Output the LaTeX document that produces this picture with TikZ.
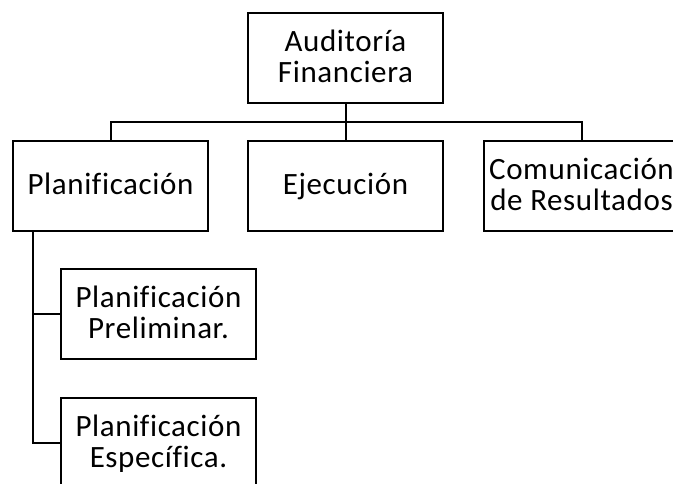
\documentclass[tikz,border=0pt]{standalone}
\usepackage{fontspec}
\setmainfont{Carlito}[LetterSpace=2, Ligatures=NoCommon]
\usepackage{tikz}
\usetikzlibrary{positioning, calc}
\newcommand{\ps}{\rule[-6pt]{0pt}{30pt}}

\begin{document}
\begin{tikzpicture}[
    x=1pt, y=1pt,
    etapa/.style={rectangle, draw, line width=2pt, outer sep=0pt, inner sep=0pt, minimum width=195pt, minimum height=90pt, align=center, font=\fontsize{31}{31}\selectfont},
    rama/.style={-, line width=2pt},
    node distance=38pt
]
\useasboundingbox (0,0) rectangle (673,-483);
\clip (0,0) rectangle (673,-483);

% 定义节点
\node[etapa] (AuditoriaFinanciera) at (345.5,-57.5) {\ps Auditoría\\\ps Financiera};
\node[etapa, below=of AuditoriaFinanciera] (Ejecucion) {\ps Ejecución};
\node[etapa, left=40pt of Ejecucion] (Planificacion) {\ps Planificación};
\node[etapa, right=41pt of Ejecucion] (Comunicacion) {\ps Comunicación\\\ps de Resultados};
\node[etapa, below=of Planificacion, xshift=48pt] (PlanPreliminar) {\ps Planificación\\\ps Preliminar.};
\node[etapa, below=39pt of PlanPreliminar] (PlanEspecifica) {\ps Planificación\\\ps Específica.};

% 绘制连线
\coordinate (bus) at ($(AuditoriaFinanciera.south)!0.5!(Ejecucion.north)$);
\coordinate (tronco) at ([xshift=20pt]Planificacion.south west);
\draw[rama] (AuditoriaFinanciera) -- (Ejecucion);
\draw[rama] (Planificacion) |- (bus) -| (Comunicacion);
\draw[rama] (tronco) |- (PlanPreliminar);
\draw[rama] (tronco) |- (PlanEspecifica);

\end{tikzpicture}
\end{document}
